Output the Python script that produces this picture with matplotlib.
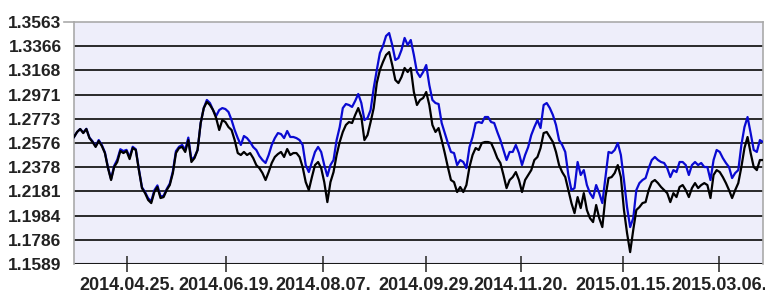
import matplotlib
matplotlib.use("Agg")
import matplotlib.pyplot as plt
import numpy as np

# --- data ---
black_series = [
    1.2625, 1.2666, 1.2690, 1.2657, 1.2690, 1.2616, 1.2584, 1.2544, 1.2592, 1.2552,
    1.2494, 1.2371, 1.2274, 1.2380, 1.2421, 1.2511, 1.2494, 1.2511, 1.2445, 1.2535,
    1.2519, 1.2355, 1.2208, 1.2167, 1.2111, 1.2086, 1.2176, 1.2217, 1.2127, 1.2135,
    1.2192, 1.2233, 1.2331, 1.2494, 1.2535, 1.2544, 1.2503, 1.2600, 1.2421,
    1.2453, 1.2519, 1.2739, 1.2861, 1.2911, 1.2886, 1.2845, 1.2780, 1.2682, 1.2763,
    1.2747, 1.2706, 1.2682, 1.2600, 1.2494, 1.2478, 1.2503, 1.2478, 1.2494, 1.2453,
    1.2396, 1.2371, 1.2331, 1.2274, 1.2339, 1.2413, 1.2462, 1.2486, 1.2503, 1.2462,
    1.2527, 1.2478, 1.2494, 1.2494, 1.2462, 1.2380, 1.2257,
    1.2192, 1.2298, 1.2396, 1.2421, 1.2371, 1.2257, 1.2094, 1.2257, 1.2339, 1.2478,
    1.2584, 1.2666, 1.2723, 1.2747, 1.2739, 1.2804, 1.2861, 1.2788, 1.2600, 1.2641,
    1.2747, 1.2861, 1.3065, 1.3171, 1.3237, 1.3294, 1.3318, 1.3212, 1.3090, 1.3065,
    1.3114, 1.3188, 1.3155, 1.3188, 1.2992, 1.2886, 1.2927, 1.2943,
    1.2992, 1.2886, 1.2723, 1.2666, 1.2698, 1.2600, 1.2494, 1.2380, 1.2274, 1.2257,
    1.2176, 1.2217, 1.2176, 1.2233, 1.2380, 1.2478, 1.2535, 1.2519, 1.2576, 1.2584,
    1.2584, 1.2576, 1.2519, 1.2453, 1.2413, 1.2315, 1.2208, 1.2274, 1.2298, 1.2339,
    1.2274, 1.2176, 1.2274, 1.2315, 1.2355, 1.2437,
    1.2462, 1.2535, 1.2657, 1.2666, 1.2625, 1.2584, 1.2503, 1.2396, 1.2339, 1.2298,
    1.2192, 1.2086, 1.2004, 1.2135, 1.2045, 1.2167, 1.2029, 1.1963, 1.1931, 1.2070,
    1.1963, 1.1890, 1.2135, 1.2290, 1.2298, 1.2331, 1.2396, 1.2298, 1.2029, 1.1841,
    1.1686, 1.1866, 1.2029, 1.2053, 1.2086, 1.2094, 1.2192, 1.2257,
    1.2274, 1.2249, 1.2217, 1.2192, 1.2167, 1.2094, 1.2167, 1.2135, 1.2217, 1.2233,
    1.2192, 1.2135, 1.2208, 1.2249, 1.2208, 1.2233, 1.2249, 1.2233, 1.2127, 1.2315,
    1.2355, 1.2339, 1.2298, 1.2249, 1.2192, 1.2127, 1.2192, 1.2249, 1.2380, 1.2535,
    1.2625, 1.2494, 1.2380, 1.2355, 1.2437, 1.2437,
]

blue_series = [
    1.2625, 1.2666, 1.2690, 1.2660, 1.2692, 1.2620, 1.2590, 1.2550, 1.2600, 1.2560,
    1.2500, 1.2378, 1.2282, 1.2390, 1.2440, 1.2525, 1.2510, 1.2520, 1.2460, 1.2545,
    1.2525, 1.2362, 1.2215, 1.2175, 1.2125, 1.2100, 1.2190, 1.2230, 1.2140, 1.2145,
    1.2200, 1.2245, 1.2345, 1.2510, 1.2545, 1.2560, 1.2520, 1.2620, 1.2440,
    1.2462, 1.2519, 1.2739, 1.2861, 1.2927, 1.2902, 1.2845, 1.2796, 1.2845, 1.2861,
    1.2853, 1.2829, 1.2763, 1.2682, 1.2616, 1.2560, 1.2633, 1.2616, 1.2584, 1.2543,
    1.2519, 1.2470, 1.2437, 1.2413, 1.2478, 1.2560, 1.2616, 1.2657, 1.2649, 1.2616,
    1.2674, 1.2625, 1.2625, 1.2616, 1.2600, 1.2560, 1.2396,
    1.2339, 1.2421, 1.2503, 1.2544, 1.2503, 1.2396, 1.2306, 1.2396, 1.2437, 1.2600,
    1.2706, 1.2861, 1.2894, 1.2886, 1.2870, 1.2919, 1.2976, 1.2902, 1.2763, 1.2780,
    1.2845, 1.3024, 1.3171, 1.3310, 1.3367, 1.3449, 1.3473, 1.3375, 1.3253, 1.3269,
    1.3335, 1.3433, 1.3375, 1.3416, 1.3294, 1.3155, 1.3114, 1.3155,
    1.3212, 1.3049, 1.2927, 1.2902, 1.2894, 1.2739, 1.2657, 1.2576, 1.2503, 1.2494,
    1.2396, 1.2437, 1.2421, 1.2371, 1.2543, 1.2625, 1.2739, 1.2747, 1.2739, 1.2788,
    1.2788, 1.2747, 1.2739, 1.2666, 1.2600, 1.2519, 1.2437, 1.2503, 1.2503, 1.2560,
    1.2494, 1.2396, 1.2478, 1.2543, 1.2641, 1.2706,
    1.2763, 1.2698, 1.2886, 1.2902, 1.2861, 1.2804, 1.2723, 1.2600, 1.2560, 1.2503,
    1.2315, 1.2192, 1.2208, 1.2421, 1.2315, 1.2355, 1.2233, 1.2167, 1.2127, 1.2233,
    1.2167, 1.2086, 1.2298, 1.2503, 1.2494, 1.2519, 1.2576, 1.2478, 1.2274, 1.2053,
    1.1890, 1.1963, 1.2192, 1.2249, 1.2274, 1.2290, 1.2371, 1.2437,
    1.2462, 1.2437, 1.2421, 1.2413, 1.2371, 1.2298, 1.2355, 1.2339, 1.2421, 1.2421,
    1.2396, 1.2315, 1.2396, 1.2421, 1.2396, 1.2413, 1.2380, 1.2380, 1.2274, 1.2437,
    1.2519, 1.2503, 1.2453, 1.2413, 1.2380, 1.2290, 1.2331, 1.2355, 1.2560, 1.2706,
    1.2788, 1.2657, 1.2519, 1.2503, 1.2600, 1.2584,
]

x_tick_labels = ["2014.04.25.", "2014.06.19.", "2014.08.07.", "2014.09.29.",
                 "2014.11.20.", "2015.01.15.", "2015.03.06."]
x_tick_index = [17.3, 49.3, 80.7, 114.0, 144.7, 177.7, 208.8]

y_tick_labels = ["1.1589", "1.1786", "1.1984", "1.2181", "1.2378", "1.2576",
                 "1.2773", "1.2971", "1.3168", "1.3366", "1.3563"]
y_min, y_max = 1.1589, 1.3563

# --- figure ---
fig = plt.figure(figsize=(7.65, 2.95), dpi=100)
ax = fig.add_axes([74 / 765, 31 / 295, 689 / 765, 242 / 295])
ax.set_facecolor("#EEEEFA")

x = np.arange(len(black_series))
ax.plot(x, blue_series, color="#0A0AD2", lw=1.6, zorder=3)
ax.plot(x, black_series, color="#000000", lw=1.6, zorder=4)

ax.set_xlim(0, len(black_series) - 1)
ax.set_ylim(y_min, y_max)

yt = np.linspace(y_min, y_max, len(y_tick_labels))
ax.set_yticks(yt)
ax.set_yticklabels(y_tick_labels)
for v in yt[1:-1]:
    ax.axhline(v, color="#1a1a1a", lw=1.3, zorder=2)
ax.axhline(y_min, color="#1a1a1a", lw=1.5, zorder=2)

ax.set_xticks(x_tick_index)
ax.set_xticklabels(x_tick_labels)

ax.tick_params(axis="y", length=0, pad=9, labelsize=12.5)
ax.tick_params(axis="x", direction="inout", length=11, width=1.3,
               color="#444444", pad=3.5, labelsize=13)
for lab in ax.get_xticklabels() + ax.get_yticklabels():
    lab.set_fontfamily("Liberation Sans")
    lab.set_fontweight("bold")
    lab.set_color("#222222")

for side in ["top", "left", "right"]:
    ax.spines[side].set_color("#AAAAAA")
    ax.spines[side].set_linewidth(1.2)
ax.spines["bottom"].set_visible(False)
# short stub to the left of the top border, next to the top label
ax.plot([-10 / 689, 0], [1, 1], transform=ax.transAxes, clip_on=False,
        color="#AAAAAA", lw=1.2)

fig.savefig("out.png", dpi=100)
